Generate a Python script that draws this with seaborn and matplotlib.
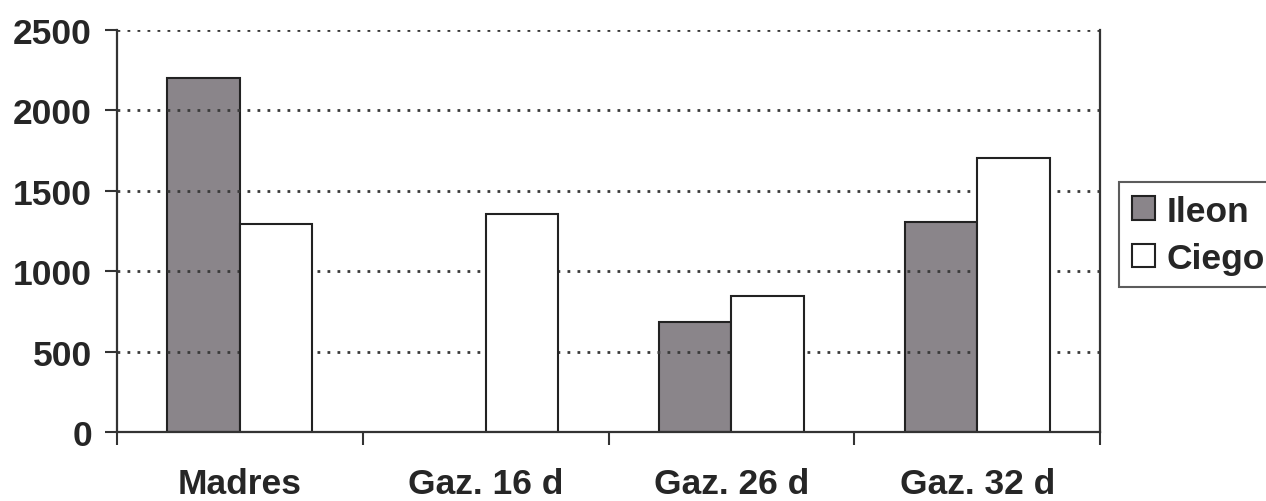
import numpy as np
import pandas as pd
import matplotlib
matplotlib.use("Agg")
import matplotlib.pyplot as plt
from matplotlib.patches import Patch
import seaborn as sns

# Values per group and tissue
grupos = ["Madres", "Gaz. 16 d", "Gaz. 26 d", "Gaz. 32 d"]
ileon = [2200, np.nan, 682, 1308]
ciego = [1293, 1356, 848, 1702]
series = ["Ileon", "Ciego"]
y_ticks = [0, 500, 1000, 1500, 2000, 2500]

df = pd.DataFrame({
    "grupo": grupos * 2,
    "tejido": [series[0]] * len(grupos) + [series[1]] * len(grupos),
    "valor": ileon + ciego,
})

sns.set_theme(style="white")
plt.rcParams["font.family"] = ["Liberation Sans", "DejaVu Sans"]
plt.rcParams["font.weight"] = "bold"
FS = 25.5

fig = plt.figure(figsize=(12.66, 5.02), dpi=100)
ax = fig.add_axes([0.0924, 0.1375, 0.7765, 0.8007])

palette = {"Ileon": "#8a858a", "Ciego": "#ffffff"}
sns.barplot(data=df, x="grupo", y="valor", hue="tejido", order=grupos,
            hue_order=series, palette=palette, width=0.59, saturation=1,
            edgecolor="#222222", linewidth=1.5, ax=ax, legend=False)

# grey bars sit under the dotted grid, white bars above it
for p in ax.containers[0]:
    p.set_zorder(1)
for p in ax.containers[1]:
    p.set_zorder(2)
ax.set_axisbelow("line")

ax.set_ylim(0, 2500)
ax.set_xlim(-0.5, len(grupos) - 0.5)
ax.set_yticks(y_ticks)
ax.set_yticklabels([str(v) for v in y_ticks], fontsize=FS, fontweight="bold")
ax.yaxis.grid(True, color="#3a3a3a", linestyle=(0, (1, 2.6)), linewidth=2.0)
ax.xaxis.grid(False)

# category boundaries as ticks, names centred in each group
ax.set_xticks(np.arange(len(grupos) + 1) - 0.5)
ax.set_xticklabels([])
ax.set_xticks(np.arange(len(grupos)), minor=True)
ax.set_xticklabels(grupos, minor=True, fontsize=FS, fontweight="bold")
ax.tick_params(axis="x", which="major", direction="out", length=9, width=1.5,
               color="#333333", bottom=True)
ax.tick_params(axis="x", which="minor", length=0, pad=25)
ax.tick_params(axis="y", direction="out", length=9, width=1.5,
               color="#333333", left=True, pad=9)

ax.set_xlabel("")
ax.set_ylabel("")
for s in ["left", "right", "bottom"]:
    ax.spines[s].set_color("#333333")
    ax.spines[s].set_linewidth(1.6)
ax.spines["top"].set_visible(False)

handles = [Patch(facecolor=palette[s], edgecolor="#222222", linewidth=1.5)
           for s in series]
leg = fig.legend(handles, series, loc="upper left",
                 bbox_to_anchor=(0.884, 0.635), bbox_transform=fig.transFigure,
                 frameon=True, fancybox=False, prop={"size": FS, "weight": "bold"},
                 handlelength=0.65, handleheight=0.65, handletextpad=0.35,
                 labelspacing=0.4, borderpad=0.35, borderaxespad=0)
leg.get_frame().set_edgecolor("#333333")
leg.get_frame().set_linewidth(1.5)

fig.savefig("out.png", dpi=100, facecolor="white")
